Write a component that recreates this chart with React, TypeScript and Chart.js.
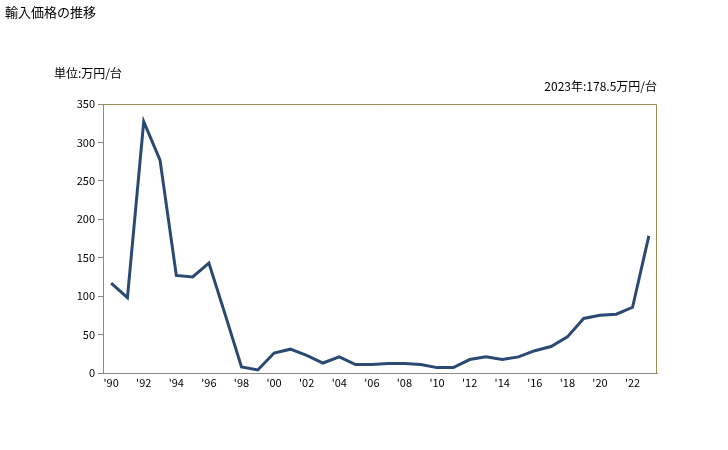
import React, { useEffect, useRef } from "react";
import { Chart, registerables } from "chart.js";

Chart.register(...registerables);

const years: number[] = [
  1990, 1991, 1992, 1993, 1994, 1995, 1996, 1997, 1998, 1999,
  2000, 2001, 2002, 2003, 2004, 2005, 2006, 2007, 2008, 2009,
  2010, 2011, 2012, 2013, 2014, 2015, 2016, 2017, 2018, 2019,
  2020, 2021, 2022, 2023,
];
const prices: number[] = [
  117, 98, 327, 277, 127, 125, 143, 76, 8, 4,
  26, 31, 23, 13, 21, 11, 11, 12.5, 12.5, 11,
  7, 7, 17.5, 21, 17.5, 21, 29, 34.5, 47, 71,
  75, 76.5, 85.5, 178.5,
];
const yTicks: number[] = [0, 50, 100, 150, 200, 250, 300, 350];

const titleText = "輸入価格の推移";
const unitText = "単位:万円/台";
const noteText = "2023年:178.5万円/台";

const FONT = "'Noto Sans CJK JP', 'Liberation Sans', sans-serif";

export default function App() {
  const ref = useRef<HTMLCanvasElement | null>(null);
  useEffect(() => {
    if (!ref.current) return;
    const textPlugin = {
      id: "texts",
      afterDraw(chart: any) {
        const ctx = chart.ctx;
        const a = chart.chartArea;
        ctx.save();
        // top and right border
        ctx.strokeStyle = "#9b8f54";
        ctx.lineWidth = 1;
        ctx.beginPath();
        ctx.moveTo(a.left, a.top + 0.5);
        ctx.lineTo(a.right - 0.5, a.top + 0.5);
        ctx.lineTo(a.right - 0.5, a.bottom);
        ctx.stroke();
        ctx.fillStyle = "#000";
        ctx.textBaseline = "middle";
        ctx.font = `13px ${FONT}`;
        ctx.textAlign = "left";
        ctx.fillText(titleText, 5, 12);
        ctx.font = `12px ${FONT}`;
        ctx.fillText(unitText, 54, 73);
        ctx.textAlign = "right";
        ctx.fillText(noteText, a.right, 86);
        ctx.restore();
      },
    };
    const chart = new Chart(ref.current, {
      type: "line",
      data: {
        labels: years.map((y) => "'" + String(y).slice(2)),
        datasets: [
          {
            data: prices,
            borderColor: "#2a4a74",
            borderWidth: 3,
            pointRadius: 0,
            tension: 0,
            fill: false,
          },
        ],
      },
      options: {
        animation: false,
        responsive: false,
        maintainAspectRatio: false,
        layout: { padding: { left: 63, top: 104, right: 71, bottom: 47 } },
        plugins: { legend: { display: false }, tooltip: { enabled: false } },
        scales: {
          x: {
            offset: true,
            grid: { display: false, drawTicks: false },
            border: { display: true, color: "#888888", width: 1 },
            ticks: {
              autoSkip: false,
              maxRotation: 0,
              minRotation: 0,
              padding: 3,
              color: "#000",
              font: { family: FONT, size: 11 },
              callback: (_v: any, i: number) => (i % 2 === 0 ? "'" + String(years[i]).slice(2) : ""),
            },
            afterFit: (s: any) => {
              s.height = 30;
            },
          },
          y: {
            min: 0,
            max: 350,
            afterBuildTicks: (s: any) => {
              s.ticks = yTicks.map((v) => ({ value: v }));
            },
            grid: { display: true, drawOnChartArea: false, drawTicks: true, tickLength: 5, color: "#888888" },
            border: { display: true, color: "#888888", width: 1 },
            ticks: {
              padding: 3,
              color: "#000",
              font: { family: FONT, size: 11 },
            },
            afterFit: (s: any) => {
              s.width = 40;
            },
          },
        },
      },
      plugins: [textPlugin],
    });
    return () => chart.destroy();
  }, []);
  return (
    <div style={{ position: "fixed", left: 0, top: 0, width: 728, height: 450, background: "#fff" }}>
      <canvas ref={ref} width={728} height={450} style={{ width: 728, height: 450 }} />
    </div>
  );
}
